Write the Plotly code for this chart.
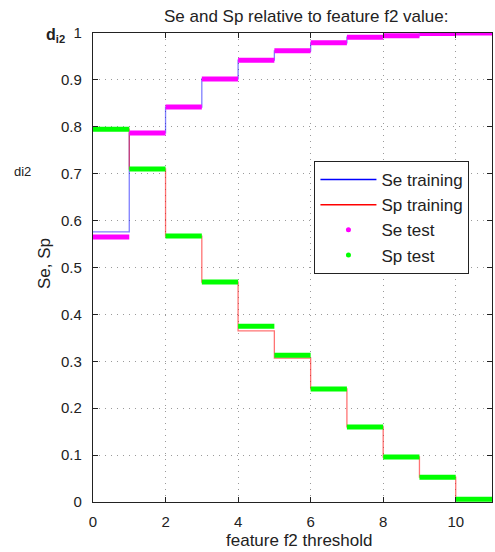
import plotly.graph_objects as go

thresholds = [0, 1, 2, 3, 4, 5, 6, 7, 8, 9, 10, 11]
se_training = [0.576, 0.787, 0.842, 0.902, 0.942, 0.962, 0.979, 0.991, 0.994, 0.999, 1.0]
sp_training = [0.795, 0.71, 0.567, 0.469, 0.365, 0.307, 0.241, 0.16, 0.096, 0.053, 0.006]
se_test = [0.565, 0.787, 0.842, 0.902, 0.942, 0.962, 0.979, 0.991, 0.994, 0.999, 1.0]
sp_test = [0.795, 0.71, 0.567, 0.469, 0.375, 0.313, 0.241, 0.16, 0.096, 0.053, 0.006]
x_ticks = [0, 2, 4, 6, 8, 10]

FONT = "Liberation Sans, Arial, sans-serif"


def step_xy(vals):
    return thresholds[: len(vals) + 1], list(vals) + [vals[-1]]


def seg_xy(vals):
    xs, ys = [], []
    for i, v in enumerate(vals):
        xs += [thresholds[i], thresholds[i + 1], None]
        ys += [v, v, None]
    return xs, ys


fig = go.Figure()

x, y = step_xy(se_training)
fig.add_trace(go.Scatter(x=x, y=y, mode="lines", line=dict(color="rgba(0,0,255,0.5)", width=1.3, shape="hv"),
                         name="Se training", showlegend=False))
x, y = step_xy(sp_training)
fig.add_trace(go.Scatter(x=x, y=y, mode="lines", line=dict(color="rgba(255,0,0,0.55)", width=1.3, shape="hv"),
                         name="Sp training", showlegend=False))
x, y = seg_xy(se_test)
fig.add_trace(go.Scatter(x=x, y=y, mode="lines", line=dict(color="#ff00ff", width=5),
                         name="Se test", showlegend=False))
x, y = seg_xy(sp_test)
fig.add_trace(go.Scatter(x=x, y=y, mode="lines", line=dict(color="#00ff00", width=5),
                         name="Sp test", showlegend=False))

# legend entries
fig.add_trace(go.Scatter(x=[None], y=[None], mode="lines", line=dict(color="blue", width=1.5), name="Se training"))
fig.add_trace(go.Scatter(x=[None], y=[None], mode="lines", line=dict(color="red", width=1.5), name="Sp training"))
fig.add_trace(go.Scatter(x=[None], y=[None], mode="markers", marker=dict(color="#ff00ff", size=5), name="Se test"))
fig.add_trace(go.Scatter(x=[None], y=[None], mode="markers", marker=dict(color="#00ff00", size=5), name="Sp test"))

axis_common = dict(
    showline=True, linecolor="#222222", linewidth=1.4, mirror="ticks",
    ticks="inside", ticklen=5, tickcolor="#222222",
    showgrid=True, gridcolor="#9a9a9a", griddash="1px,5px", gridwidth=1,
    zeroline=False, tickfont=dict(family=FONT, size=15, color="#222222"),
)

fig.update_layout(
    width=495, height=552,
    margin=dict(l=93, r=3, t=33, b=50),
    paper_bgcolor="white", plot_bgcolor="white",
    font=dict(family=FONT, size=15, color="#222222"),
    xaxis=dict(range=[0, 11], tickvals=x_ticks, ticklabelstandoff=6, **axis_common),
    yaxis=dict(range=[0, 1], dtick=0.1, tickformat="~g", ticklabelstandoff=7, **axis_common),
    legend=dict(x=0.555, y=0.727, xanchor="left", yanchor="top",
                bgcolor="white", bordercolor="#222222", borderwidth=1, itemwidth=56,
                font=dict(family=FONT, size=17), tracegroupgap=0),
    annotations=[
        dict(text="Se and Sp relative to feature f2 value:", xref="paper", yref="paper",
             x=0.535, y=1.0, yshift=17, xanchor="center", yanchor="middle", showarrow=False,
             font=dict(family=FONT, size=17)),
        dict(text="<b>d<sub>i2</sub></b>", xref="paper", yref="paper", x=-0.065, y=0.994,
             xanchor="right", yanchor="middle", showarrow=False, font=dict(family=FONT, size=16)),
        dict(text="di2", xref="paper", yref="paper", x=-0.15, y=0.704,
             xanchor="right", yanchor="middle", showarrow=False, font=dict(family=FONT, size=13)),
        dict(text="Se, Sp", xref="paper", yref="paper", x=-0.12, y=0.5075, textangle=-90,
             xanchor="center", yanchor="middle", showarrow=False, font=dict(family=FONT, size=17)),
        dict(text="feature f2 threshold", xref="paper", yref="paper", x=0.5175, y=0.0, yshift=-38,
             xanchor="center", yanchor="middle", showarrow=False, font=dict(family=FONT, size=17)),
    ],
)

fig.write_html("out.html", config={"displayModeBar": False},
               post_script="document.body.style.margin='0';document.body.style.overflow='hidden';")
